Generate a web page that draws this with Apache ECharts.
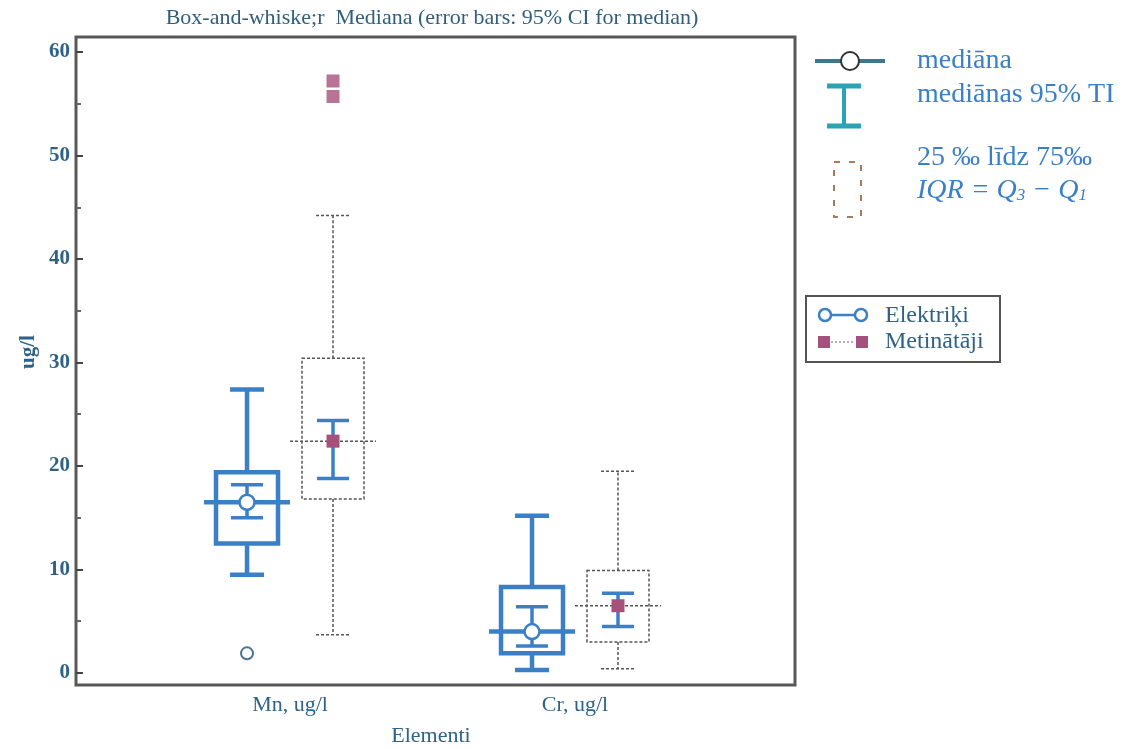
<!DOCTYPE html>
<html>
<head>
<meta charset="utf-8">
<script src="https://cdn.jsdelivr.net/npm/echarts@6/dist/echarts.min.js"></script>
<style>html,body{margin:0;padding:0;background:#fff}#c{width:1125px;height:749px}</style>
</head>
<body>
<div id="c"></div>
<script>
// ---- data ----
const categories = ['Mn, ug/l', 'Cr, ug/l'];
// [low whisker, Q1, median, Q3, high whisker]
const elektrikiStats = [[9.5, 12.5, 16.5, 19.4, 27.4], [0.3, 1.9, 4.0, 8.3, 15.2]];
const elektrikiCI = [[15.0, 18.2], [2.6, 6.4]];
const metinatajiStats = [[3.7, 16.8, 22.4, 30.4, 44.2], [0.4, 3.0, 6.5, 9.9, 19.5]];
const metinatajiCI = [[18.8, 24.4], [4.5, 7.7]];
const elektrikiOutliers = [[0, 1.9]];
const metinatajiOutliers = [[0, 57.2], [0, 55.7]];
const yLabelTicks = [0, 10, 20, 30, 40, 50, 60];
const yMinorTicks = [5, 15, 25, 35, 45, 55];

const BLUE = '#3b7fc6';
const PINK = '#a6517c';
const DASH = '#555555';
const LABEL = '#2f6287';
const SERIF = '"Liberation Serif","DejaVu Serif",serif';

function buildData(stats, ci) {
  return stats.map((s, i) => [i, s[0], s[1], s[2], s[3], s[4], ci[i][0], ci[i][1]]);
}

function makeRender(kind) {
  const off = kind === 'e' ? -43 : 43;
  return function (params, api) {
    const i = api.value(0);
    const y = v => api.coord([i, v])[1];
    const cx = api.coord([i, 0])[0] + off;
    const low = y(api.value(1)), q1 = y(api.value(2)), med = y(api.value(3)),
          q3 = y(api.value(4)), high = y(api.value(5)), ciL = y(api.value(6)), ciH = y(api.value(7));
    const children = [];
    let boxStyle;
    if (kind === 'e') {
      boxStyle = { stroke: BLUE, lineWidth: 4.5, fill: null };
    } else {
      boxStyle = { stroke: DASH, lineWidth: 1.5, lineDash: [3, 2], fill: null };
    }
    const hw = 31, capW = 17, medW = 43;
    children.push({ type: 'rect', shape: { x: cx - hw, y: q3, width: 2 * hw, height: q1 - q3 }, style: boxStyle });
    children.push({ type: 'line', shape: { x1: cx, y1: q3, x2: cx, y2: high }, style: boxStyle });
    children.push({ type: 'line', shape: { x1: cx, y1: q1, x2: cx, y2: low }, style: boxStyle });
    children.push({ type: 'line', shape: { x1: cx - capW, y1: high, x2: cx + capW, y2: high }, style: boxStyle });
    children.push({ type: 'line', shape: { x1: cx - capW, y1: low, x2: cx + capW, y2: low }, style: boxStyle });
    children.push({ type: 'line', shape: { x1: cx - medW, y1: med, x2: cx + medW, y2: med }, style: boxStyle });
    const ciStyle = { stroke: BLUE, lineWidth: 3.5 };
    children.push({ type: 'line', shape: { x1: cx, y1: ciL, x2: cx, y2: ciH }, style: ciStyle });
    children.push({ type: 'line', shape: { x1: cx - 16, y1: ciL, x2: cx + 16, y2: ciL }, style: ciStyle });
    children.push({ type: 'line', shape: { x1: cx - 16, y1: ciH, x2: cx + 16, y2: ciH }, style: ciStyle });
    if (kind === 'e') {
      children.push({ type: 'circle', shape: { cx: cx, cy: med, r: 7.5 }, style: { fill: '#fff', stroke: BLUE, lineWidth: 2.5 } });
    } else {
      children.push({ type: 'rect', shape: { x: cx - 6.5, y: med - 6.5, width: 13, height: 13 }, style: { fill: PINK } });
    }
    return { type: 'group', children: children };
  };
}

const chart = echarts.init(document.getElementById('c'), null, { renderer: 'canvas' });

const graphics = [
  { type: 'text', style: { text: 'Box-and-whiske;r  Mediana (error bars: 95% CI for median)', x: 432, y: 18, textAlign: 'center', textVerticalAlign: 'middle', font: '22px ' + SERIF, fill: '#2f5f7c' } },
  { type: 'text', style: { text: 'ug/l', x: 0, y: 0, textAlign: 'center', textVerticalAlign: 'middle', font: 'bold 21px ' + SERIF, fill: LABEL }, x: 29, y: 352, rotation: Math.PI / 2 },
  { type: 'text', style: { text: 'Elementi', x: 431, y: 736, textAlign: 'center', textVerticalAlign: 'middle', font: '22px ' + SERIF, fill: LABEL } },
  // top-right legend
  { type: 'line', shape: { x1: 815, y1: 61, x2: 885, y2: 61 }, style: { stroke: '#3f7690', lineWidth: 4 } },
  { type: 'circle', shape: { cx: 850, cy: 61, r: 9 }, style: { fill: '#fff', stroke: '#333', lineWidth: 2 } },
  { type: 'line', shape: { x1: 844, y1: 86, x2: 844, y2: 126 }, style: { stroke: '#2aa4b5', lineWidth: 4 } },
  { type: 'line', shape: { x1: 827, y1: 86, x2: 861, y2: 86 }, style: { stroke: '#2aa4b5', lineWidth: 5 } },
  { type: 'line', shape: { x1: 827, y1: 126, x2: 861, y2: 126 }, style: { stroke: '#2aa4b5', lineWidth: 5 } },
  { type: 'rect', shape: { x: 834, y: 162, width: 27, height: 55 }, style: { fill: null, stroke: '#a87a5a', lineWidth: 2, lineDash: [6, 9] } },
  { type: 'text', style: { text: 'mediāna', x: 917, y: 61, textVerticalAlign: 'middle', font: '28px ' + SERIF, fill: BLUE } },
  { type: 'text', style: { text: 'mediānas 95% TI', x: 917, y: 95, textVerticalAlign: 'middle', font: '28px ' + SERIF, fill: BLUE } },
  { type: 'text', style: { text: '25 ‰ līdz 75‰', x: 917, y: 158, textVerticalAlign: 'middle', font: '28px ' + SERIF, fill: BLUE } },
  { type: 'text', style: { text: '{i|IQR = Q}{s|3}{i| − Q}{s|1}', x: 917, y: 191, textVerticalAlign: 'middle', fill: BLUE,
      rich: { i: { fontFamily: SERIF, fontSize: 28, fontStyle: 'italic', color: BLUE }, s: { fontFamily: SERIF, fontSize: 17, fontStyle: 'italic', color: BLUE, padding: [10, 0, 0, 0] } } } },
  // legend box
  { type: 'rect', shape: { x: 806, y: 296, width: 194, height: 66 }, style: { fill: '#fff', stroke: '#555', lineWidth: 2 } },
  { type: 'line', shape: { x1: 831, y1: 315, x2: 855, y2: 315 }, style: { stroke: BLUE, lineWidth: 2.5 } },
  { type: 'circle', shape: { cx: 825, cy: 315, r: 6 }, style: { fill: '#fff', stroke: BLUE, lineWidth: 2.5 } },
  { type: 'circle', shape: { cx: 861, cy: 315, r: 6 }, style: { fill: '#fff', stroke: BLUE, lineWidth: 2.5 } },
  { type: 'line', shape: { x1: 831, y1: 342, x2: 855, y2: 342 }, style: { stroke: '#666', lineWidth: 1, lineDash: [2, 2] } },
  { type: 'rect', shape: { x: 818, y: 336, width: 12, height: 12 }, style: { fill: PINK } },
  { type: 'rect', shape: { x: 856, y: 336, width: 12, height: 12 }, style: { fill: PINK } },
  { type: 'text', style: { text: 'Elektriķi', x: 885, y: 316, textVerticalAlign: 'middle', font: '24px ' + SERIF, fill: LABEL } },
  { type: 'text', style: { text: 'Metinātāji', x: 885, y: 342, textVerticalAlign: 'middle', font: '24px ' + SERIF, fill: LABEL } }
];

chart.setOption({
  animation: false,
  backgroundColor: '#fff',
  grid: { left: 76, right: 330, top: 37, bottom: 64, show: true, borderColor: '#585858', borderWidth: 3, backgroundColor: 'transparent' },
  xAxis: {
    type: 'value', min: -0.751, max: 1.772,
    axisLine: { show: false, onZero: false }, axisTick: { show: false }, splitLine: { show: false },
    axisLabel: { customValues: [0, 1], formatter: v => categories[Math.round(v)], color: LABEL, fontFamily: SERIF, fontSize: 22, margin: 9 }
  },
  yAxis: [{
    type: 'value', min: -1.16, max: 61.45, position: 'left',
    axisLine: { show: false, onZero: false }, splitLine: { show: false },
    axisTick: { inside: true, length: 7, customValues: yLabelTicks, lineStyle: { color: '#444', width: 2 } },
    axisLabel: { customValues: yLabelTicks, color: LABEL, fontFamily: SERIF, fontSize: 21, fontWeight: 'bold', margin: 6 }
  }, {
    type: 'value', min: -1.16, max: 61.45, position: 'left',
    axisLine: { show: false, onZero: false }, splitLine: { show: false }, axisLabel: { show: false },
    axisTick: { show: true, inside: true, length: 5, customValues: yMinorTicks, lineStyle: { color: '#666', width: 2 } }
  }],
  graphic: graphics,
  series: [
    { type: 'custom', name: 'Elektriķi', renderItem: makeRender('e'), data: buildData(elektrikiStats, elektrikiCI), encode: { x: 0, y: [1, 5] }, z: 3 },
    { type: 'custom', name: 'Metinātāji', renderItem: makeRender('m'), data: buildData(metinatajiStats, metinatajiCI), encode: { x: 0, y: [1, 5] }, z: 2 },
    { type: 'scatter', data: elektrikiOutliers, symbol: 'circle', symbolSize: 12, symbolOffset: [-43, 0], itemStyle: { color: '#fff', borderColor: '#1f4f80', borderWidth: 2 }, z: 4 },
    { type: 'scatter', data: metinatajiOutliers, symbol: 'rect', symbolSize: 13, symbolOffset: [43, 0], itemStyle: { color: PINK }, z: 4 }
  ]
});
</script>
</body>
</html>
